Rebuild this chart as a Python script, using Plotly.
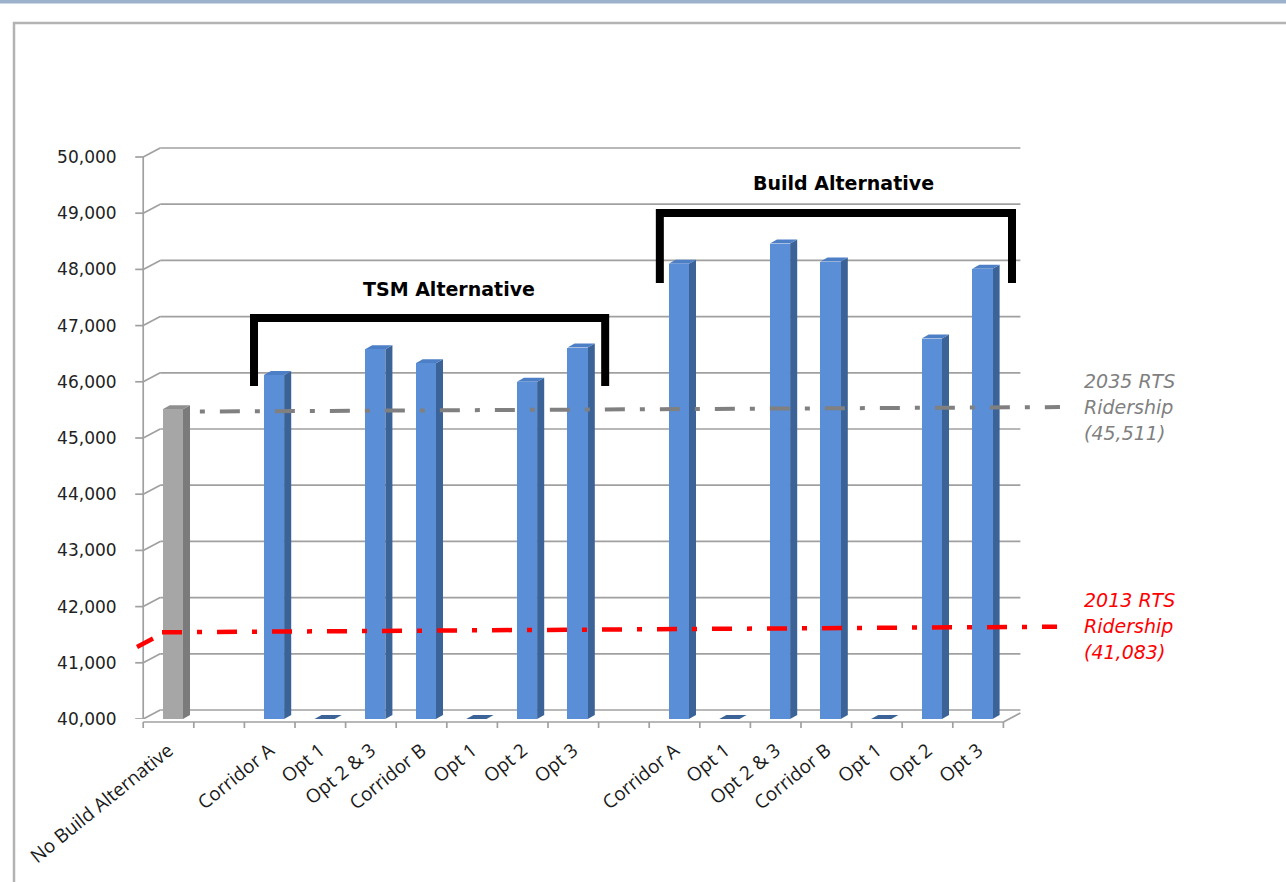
import plotly.graph_objects as go

# ---------------- data ----------------
no_build_label = "No Build Alternative"
no_build_value = 45511
tsm_labels = ["Corridor A", "Opt 1", "Opt 2 & 3", "Corridor B", "Opt 1", "Opt 2", "Opt 3"]
tsm_values = [46120, 0, 46580, 46330, 0, 46000, 46610]
build_labels = ["Corridor A", "Opt 1", "Opt 2 & 3", "Corridor B", "Opt 1", "Opt 2", "Opt 3"]
build_values = [48100, 0, 48460, 48140, 0, 46770, 48010]
y_ticks = list(range(40000, 50001, 1000))

rts_2035_text = ["2035 RTS", "Ridership", "(45,511)"]
rts_2013_text = ["2013 RTS", "Ridership", "(41,083)"]
rts_2035_line = [45470, 45550]      # drawn level at left / right end
rts_2013_line = [41543, 41642]
rts_2013_wall = [41281, 41432]      # short piece on the left wall

tsm_title = "TSM Alternative"
build_title = "Build Alternative"
tsm_bracket_y = [45925, 47135]
build_bracket_y = [47758, 49004]

# ---------------- layout geometry ----------------
W, H = 1286, 882
ML, MR, MT, MB = 125, 211, 129, 163
PH = H - MT - MB          # 590
PW = W - ML - MR          # 950
YMIN, YMAX = 40000, 50498
XMIN, XMAX = -0.8597, 17.915

def pxx(px):   # pixel x -> paper
    return (px - ML) / PW

def pxy(py):   # pixel y -> paper
    return (H - MB - py) / PH

# slots
slot_nb = 0
tsm_slots = list(range(2, 9))
build_slots = list(range(10, 17))
slots = [slot_nb] + tsm_slots + build_slots
values = [no_build_value] + tsm_values + build_values
labels = [no_build_label] + tsm_labels + build_labels

BLUE_F, BLUE_S, BLUE_T = "#5A8ED6", "#3B6398", "#4C7FC6"
GRAY_F, GRAY_S, GRAY_T = "#A6A6A6", "#7B7B7B", "#8F8F8F"
front_cols = [GRAY_F] + [BLUE_F] * 14
side_cols = [GRAY_S] + [BLUE_S] * 14
top_cols = [GRAY_T] + [BLUE_T] * 14

BAR_OFF, BAR_W, BAR_DX, BAR_DY = 0.085, 0.4, 0.14, 71
AX_L, AX_R = -0.5, 16.5
WALL_DX, WALL_DY = 0.336, 160
GRID = "#A0A0A0"

shapes = []
# walls / gridlines
for v in y_ticks:
    shapes.append(dict(type="line", xref="x", yref="y", x0=AX_L + WALL_DX, x1=AX_R + WALL_DX,
                       y0=v + WALL_DY, y1=v + WALL_DY, line=dict(color=GRID, width=1.7), layer="below"))
    shapes.append(dict(type="line", xref="x", yref="y", x0=AX_L, x1=AX_L + WALL_DX,
                       y0=v, y1=v + WALL_DY, line=dict(color=GRID, width=1.7), layer="below"))
    shapes.append(dict(type="line", xref="x", yref="y", x0=AX_L - 0.158, x1=AX_L,
                       y0=v, y1=v, line=dict(color=GRID, width=1.7), layer="below"))
shapes.append(dict(type="line", xref="x", yref="y", x0=AX_L, x1=AX_L, y0=YMIN, y1=50000,
                   line=dict(color=GRID, width=1.7), layer="below"))
# floor front edge, right diagonal, category ticks
shapes.append(dict(type="line", xref="x", yref="paper", x0=AX_L, x1=AX_R, y0=-3 / PH, y1=-3 / PH,
                   line=dict(color=GRID, width=1.7), layer="below"))
shapes.append(dict(type="line", xref="x", yref="paper", x0=AX_R, x1=AX_R + WALL_DX, y0=-3 / PH, y1=6 / PH,
                   line=dict(color=GRID, width=1.7), layer="below"))
for i in range(18):
    b = AX_L + i
    shapes.append(dict(type="line", xref="x", yref="paper", x0=b, x1=b, y0=-3 / PH, y1=-9 / PH,
                       line=dict(color=GRID, width=1.7), layer="below"))

# 3D faces of the bars
for s, v, sc, tc in zip(slots, values, side_cols, top_cols):
    xc = s + BAR_OFF
    top = max(v, YMIN)
    xl, xr = xc - BAR_W / 2, xc + BAR_W / 2
    if v > YMIN:
        shapes.append(dict(type="path", xref="x", yref="y", layer="below",
                           path=f"M {xr},{YMIN} L {xr + BAR_DX},{YMIN + BAR_DY} L {xr + BAR_DX},{top + BAR_DY} L {xr},{top} Z",
                           fillcolor=sc, line=dict(width=0)))
    shapes.append(dict(type="path", xref="x", yref="y", layer="below",
                       path=f"M {xl},{top} L {xr},{top} L {xr + BAR_DX},{top + BAR_DY} L {xl + BAR_DX},{top + BAR_DY} Z",
                       fillcolor=tc if v > YMIN else BLUE_S, line=dict(width=0)))

# brackets
for first, last, (yb, yt), pl, pr in [(tsm_slots[0], tsm_slots[-1], tsm_bracket_y, 0.31, 0.63),
                                      (build_slots[0], build_slots[-1], build_bracket_y, 0.29, 0.67)]:
    x0, x1 = first - pl, last + pr
    shapes.append(dict(type="path", xref="x", yref="y", layer="above",
                       path=f"M {x0},{yb} L {x0},{yt} L {x1},{yt} L {x1},{yb}",
                       line=dict(color="black", width=8)))

# frame and top band
shapes.append(dict(type="rect", xref="paper", yref="paper", x0=pxx(14), x1=pxx(1310), y0=pxy(23), y1=pxy(910),
                   line=dict(color="#B3B3B3", width=2.5), fillcolor="rgba(0,0,0,0)", layer="below"))
shapes.append(dict(type="rect", xref="paper", yref="paper", x0=pxx(-5), x1=pxx(1300), y0=pxy(-2), y1=pxy(3.5),
                   line=dict(width=0), fillcolor="#9CB2CA", layer="below"))

fig = go.Figure()
fig.add_trace(go.Bar(x=[s + BAR_OFF for s in slots], y=values, width=BAR_W,
                     marker=dict(color=front_cols, line=dict(width=0)),
                     text=labels, hovertemplate="%{text}: %{y:,}<extra></extra>", textposition="none",
                     showlegend=False))

# reference lines
fig.add_trace(go.Scatter(x=[slot_nb + 0.62, 17.618], y=rts_2035_line, mode="lines",
                         line=dict(color="#808080", width=4, dash="5px,15px,20px,15px"),
                         hoverinfo="skip", showlegend=False))
fig.add_trace(go.Scatter(x=[-0.128, 17.56], y=rts_2013_line, mode="lines",
                         line=dict(color="#FF0000", width=4.5, dash="20px,15px,5px,15px"),
                         hoverinfo="skip", showlegend=False))
fig.add_trace(go.Scatter(x=[-0.6225, -0.306], y=rts_2013_wall, mode="lines",
                         line=dict(color="#FF0000", width=4.5),
                         hoverinfo="skip", showlegend=False))

annotations = []
annotations.append(dict(x=5.54, y=47651, xref="x", yref="y", text=tsm_title, showarrow=False,
                        font=dict(family="DejaVu Sans", size=19, color="black", weight="bold")))
annotations.append(dict(x=13.33, y=49537, xref="x", yref="y", text=build_title, showarrow=False,
                        font=dict(family="DejaVu Sans", size=19, color="black", weight="bold")))
for lines, ys, col in [(rts_2035_text, [46014, 45552, 45089], "#808080"),
                       (rts_2013_text, [42117, 41655, 41192], "#FF0000")]:
    for t, yv in zip(lines, ys):
        annotations.append(dict(x=pxx(1082), y=yv, xref="paper", yref="y", text=f"<i>{t}</i>",
                                showarrow=False, xanchor="left",
                                font=dict(family="DejaVu Sans", size=19, color=col)))

fig.update_layout(
    width=W, height=H,
    margin=dict(l=ML, r=MR, t=MT, b=MB, pad=0),
    paper_bgcolor="white", plot_bgcolor="rgba(0,0,0,0)",
    shapes=shapes, annotations=annotations,
    xaxis=dict(range=[XMIN, XMAX], showgrid=False, zeroline=False, showline=False,
               tickmode="array", tickvals=slots, ticktext=labels, tickangle=-39,
               ticks="outside", ticklen=12, tickcolor="rgba(0,0,0,0)",
               tickfont=dict(family="Open Sans", size=19, color="#1A1A1A"), fixedrange=True),
    yaxis=dict(range=[YMIN, YMAX], showgrid=False, zeroline=False, showline=False,
               tickmode="array", tickvals=y_ticks, tickformat=",d",
               ticks="outside", ticklen=4, tickcolor="rgba(0,0,0,0)",
               tickfont=dict(family="DejaVu Sans", size=17, color="#222222"), fixedrange=True),
    bargap=0,
)

fig.write_html("out.html")
